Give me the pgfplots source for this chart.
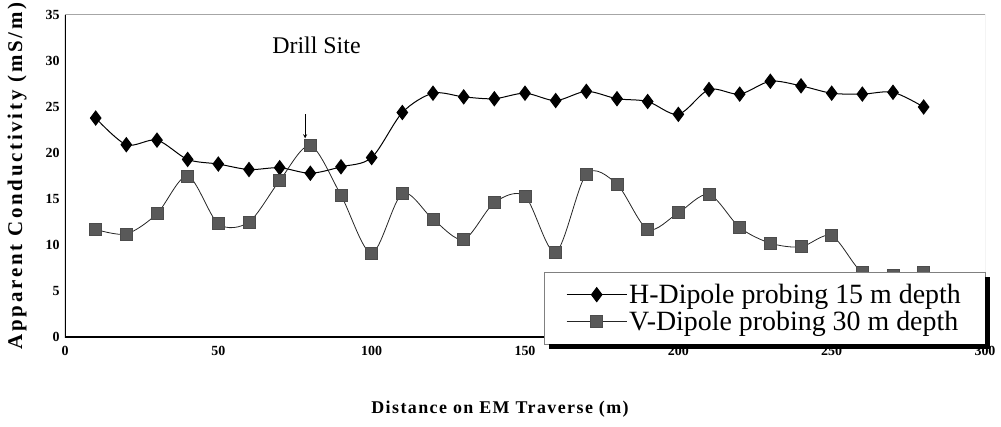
\documentclass[border=0pt]{standalone}
\usepackage{fontspec}
\setmainfont{Liberation Serif}
\usepackage{pgfplots}
\pgfplotsset{compat=1.18}
\begin{document}
\begin{tikzpicture}
\path[use as bounding box] (-65bp,-90bp) rectangle (936bp,337bp);
\begin{axis}[
  at={(0,0)}, anchor=south west,
  scale only axis, width=920bp, height=322bp,
  xmin=0, xmax=300, ymin=0, ymax=35,
  xtick={0,50,...,300}, ytick={0,5,...,35},
  /pgf/number format/assume math mode=true,
  tick label style={font=\fontsize{14}{14}\selectfont\bfseries},
  xticklabel style={yshift=-6bp},
  yticklabel style={xshift=-2bp},
  major tick length=0pt,
  axis line style={draw=none},
  xlabel={\addfontfeatures{LetterSpace=8}Distance on EM Traverse (m)},
  xlabel style={font=\fontsize{18}{18}\selectfont\bfseries, xshift=-25bp},
  xlabel shift=38bp,
  ylabel={\addfontfeatures{LetterSpace=13}Apparent Conductivity (mS/m)},
  ylabel style={font=\fontsize{21}{21}\selectfont\bfseries},
  ylabel shift=12bp,
  legend cell align=left,
  legend style={name=leg, at={(rel axis cs:1.0,-0.022)}, anchor=south east,
    draw=gray, fill=white, font=\fontsize{28}{31}\selectfont,
    inner xsep=22bp, inner ysep=10bp, row sep=2bp},
  legend image code/.code={
    \draw[#1] (0bp,0bp) -- (60bp,0bp);
    \draw[#1, only marks] plot coordinates {(30bp,0bp)};},
]
\addplot[black, line width=1bp, smooth, tension=0.5, mark=diamond*, mark size=7bp,
  mark options={fill=black, solid}] coordinates {
(10,23.8)(20,20.9)(30,21.4)(40,19.3)(50,18.8)(60,18.2)(70,18.4)(80,17.8)(90,18.5)(100,19.5)
(110,24.4)(120,26.5)(130,26.1)(140,25.9)(150,26.5)(160,25.7)(170,26.7)(180,25.9)(190,25.6)(200,24.2)
(210,26.9)(220,26.4)(230,27.8)(240,27.3)(250,26.5)(260,26.4)(270,26.6)(280,25.0)};
\addlegendentry{H-Dipole probing 15 m depth}
\addplot[black!85, line width=0.8bp, smooth, tension=0.5, mark=square*, mark size=6bp,
  mark options={fill=gray!70!black, draw=black!70, solid}] coordinates {
(10,11.7)(20,11.2)(30,13.4)(40,17.5)(50,12.3)(60,12.5)(70,17.0)(80,20.8)(90,15.4)(100,9.1)
(110,15.6)(120,12.8)(130,10.6)(140,14.6)(150,15.3)(160,9.2)(170,17.7)(180,16.6)(190,11.7)(200,13.5)
(210,15.5)(220,11.9)(230,10.2)(240,9.8)(250,11.0)(260,7.0)(270,6.7)(280,7.0)};
\addlegendentry{V-Dipole probing 30 m depth}
\draw[black, line width=1.2bp] (rel axis cs:0,1) -- (rel axis cs:0,0) -- (rel axis cs:1,0);
\draw[gray!70, line width=1bp] (rel axis cs:0,1) -- (rel axis cs:1,1) -- (rel axis cs:1,0);
\node[font=\fontsize{24}{24}\selectfont] at (axis cs:82,31.7) {Drill Site};
\draw[-stealth, line width=0.8bp] (axis cs:78.3,24.2) -- (axis cs:78.3,21.6);
\end{axis}
\fill[black] ([xshift=5bp,yshift=-5bp]leg.south west) rectangle (leg.south east);
\fill[black] ([xshift=5bp,yshift=-5bp]leg.south east) rectangle ([yshift=-5bp]leg.north east);
\end{tikzpicture}
\end{document}
